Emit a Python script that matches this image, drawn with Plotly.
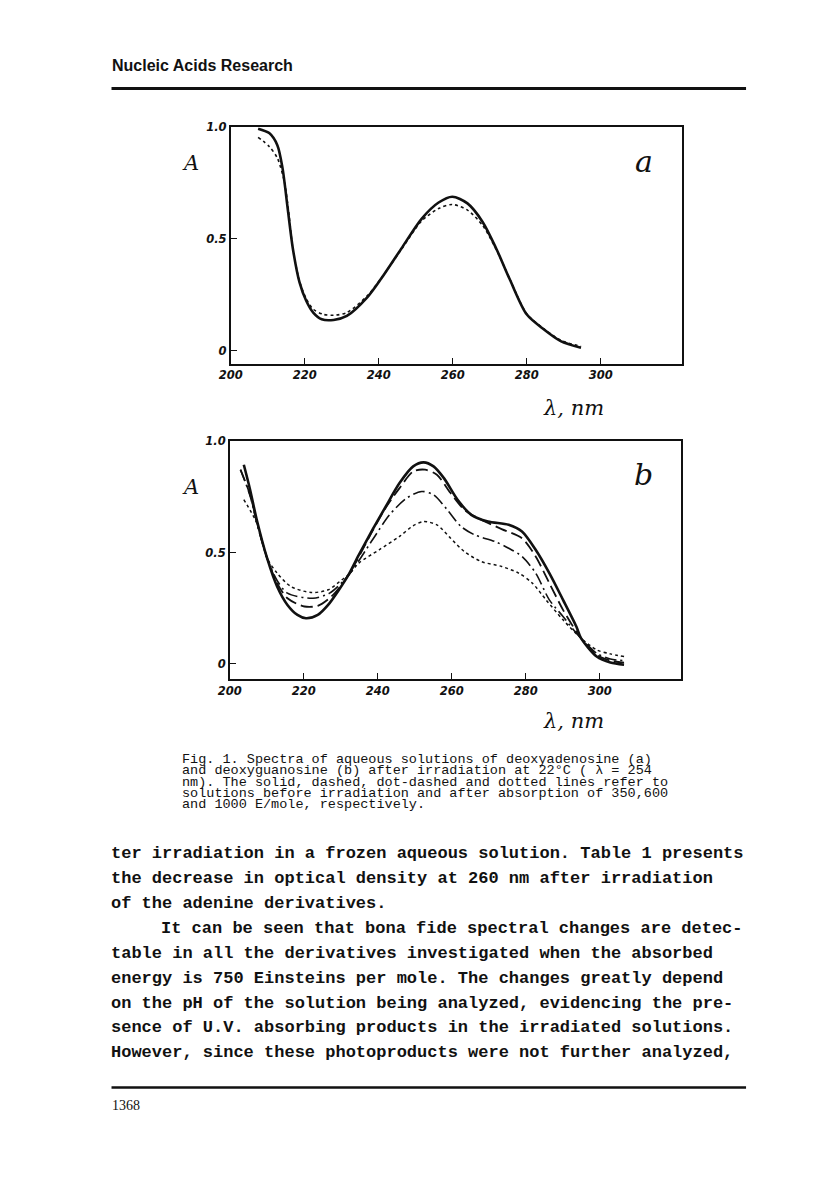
"""Scanned page: UV spectra of irradiated deoxyadenosine (a) and deoxyguanosine (b)."""

import plotly.graph_objects as go

W, H = 816, 1189
INK = "#111111"

# ---------------------------------------------------------------------------
# Data
# ---------------------------------------------------------------------------

# Panel a: deoxyadenosine
a_solid_nm = [207.4, 210.4, 212.6, 214.0, 215.4, 216.8, 218.6, 220.4, 222.3, 224.6,
              227.8, 231.4, 236.9, 240.6, 246.1, 251.6, 256.2, 259.9, 264.0, 268.1,
              271.8, 275.4, 280.0, 284.6, 289.2, 294.7]
a_solid_abs = [0.994, 0.974, 0.920, 0.817, 0.636, 0.456, 0.305, 0.223, 0.170, 0.140,
               0.137, 0.155, 0.238, 0.320, 0.456, 0.590, 0.663, 0.689, 0.659, 0.576,
               0.456, 0.320, 0.162, 0.095, 0.042, 0.012]

a_dot_nm = [207.4, 210.4, 212.6, 214.5, 215.6, 216.8, 218.6, 220.4, 222.3, 225.0,
            227.8, 231.4, 236.9, 240.6, 246.1, 251.6, 256.2, 259.9, 264.0, 268.1,
            271.8, 275.4, 280.0, 284.6, 289.2, 294.7]
a_dot_abs = [0.955, 0.914, 0.862, 0.756, 0.630, 0.456, 0.310, 0.232, 0.185, 0.162,
             0.158, 0.170, 0.245, 0.322, 0.452, 0.580, 0.636, 0.654, 0.629, 0.560,
             0.452, 0.322, 0.165, 0.098, 0.046, 0.018]

# Panel b: deoxyguanosine (before irradiation, 350, 600, 1000 E/mole)
b_solid_nm = [203.8, 205.5, 207.3, 210.1, 212.8, 215.6, 218.3, 220.6, 223.8, 226.6,
              229.4, 232.1, 234.9, 238.6, 242.2, 245.9, 249.6, 252.4, 255.1, 257.9,
              261.6, 265.3, 269.8, 275.4, 279.0, 282.7, 286.4, 290.1, 293.7, 295.0,
              299.2, 302.9, 306.6]
b_solid_abs = [0.895, 0.783, 0.648, 0.475, 0.348, 0.265, 0.220, 0.205, 0.220, 0.265,
               0.330, 0.400, 0.490, 0.603, 0.708, 0.813, 0.888, 0.906, 0.888, 0.835,
               0.738, 0.670, 0.640, 0.625, 0.595, 0.513, 0.408, 0.288, 0.168, 0.115,
               0.033, 0.006, -0.004]

b_dash_nm = [202.9, 205.5, 207.3, 210.1, 212.8, 215.6, 220.2, 223.8, 227.5, 232.1,
             238.6, 242.2, 245.9, 249.6, 252.8, 256.0, 259.7, 263.4, 268.0, 273.5,
             279.0, 282.7, 286.4, 290.1, 293.7, 295.0, 299.2, 302.9, 306.6]
b_dash_abs = [0.873, 0.760, 0.640, 0.475, 0.363, 0.295, 0.258, 0.261, 0.303, 0.400,
              0.598, 0.703, 0.790, 0.865, 0.873, 0.850, 0.768, 0.693, 0.648, 0.606,
              0.565, 0.483, 0.363, 0.243, 0.145, 0.115, 0.040, 0.015, 0.006]

b_dashdot_nm = [202.9, 205.5, 207.3, 210.1, 212.8, 215.6, 222.5, 227.0, 232.1, 238.6,
                243.2, 247.8, 251.9, 255.1, 258.8, 262.5, 266.2, 271.7, 275.4, 279.0,
                282.7, 286.4, 290.1, 293.7, 295.0, 299.2, 302.9, 306.6]
b_dashdot_abs = [0.873, 0.755, 0.635, 0.475, 0.375, 0.318, 0.295, 0.318, 0.398, 0.558,
                 0.670, 0.745, 0.775, 0.760, 0.693, 0.618, 0.580, 0.550, 0.520, 0.483,
                 0.408, 0.288, 0.213, 0.138, 0.115, 0.048, 0.022, 0.015]

b_dot_nm = [203.8, 207.3, 210.1, 212.8, 216.5, 222.0, 226.6, 230.3, 232.1, 234.9,
            240.4, 245.9, 249.6, 252.4, 256.0, 259.7, 263.4, 268.0, 273.5, 278.1,
            281.8, 285.5, 290.1, 295.0, 299.2, 302.9, 306.6]
b_dot_abs = [0.738, 0.633, 0.475, 0.408, 0.348, 0.321, 0.333, 0.378, 0.400, 0.453,
             0.513, 0.573, 0.621, 0.640, 0.625, 0.565, 0.505, 0.460, 0.438, 0.408,
             0.363, 0.288, 0.198, 0.115, 0.063, 0.045, 0.033]

x_ticks = [200, 220, 240, 260, 280, 300]
x_tick_text = ["200", "220", "240", "260", "280", "300"]
y_ticks = [0, 0.5, 1.0]
y_tick_text = ["0", "0.5", "1.0"]

caption_lines = [
    "Fig. 1. Spectra of aqueous solutions of deoxyadenosine (a)",
    "and deoxyguanosine (b) after irradiation at 22°C ( λ = 254",
    "nm). The solid, dashed, dot-dashed and dotted lines refer to",
    "solutions before irradiation and after absorption of 350,600",
    "and 1000 E/mole, respectively.",
]

body_lines = [
    "ter irradiation in a frozen aqueous solution. Table 1 presents",
    "the decrease in optical density at 260 nm after irradiation",
    "of the adenine derivatives.",
    "It can be seen that bona fide spectral changes are detec-",
    "table in all the derivatives investigated when the absorbed",
    "energy is 750 Einsteins per mole. The changes greatly depend",
    "on the pH of the solution being analyzed, evidencing the pre-",
    "sence of U.V. absorbing products in the irradiated solutions.",
    "However, since these photoproducts were not further analyzed,",
]


def px_x(x):
    return x / W


def px_y(y):
    return 1 - y / H


# ---------------------------------------------------------------------------
# Figure
# ---------------------------------------------------------------------------

fig = go.Figure()


def add_curve(x, y, axis, dash, width):
    fig.add_trace(
        go.Scatter(
            x=x, y=y, mode="lines",
            line=dict(color=INK, dash=dash, width=width, shape="spline", smoothing=0.8),
            xaxis="x" + axis, yaxis="y" + axis, showlegend=False, hoverinfo="skip",
        )
    )


add_curve(a_solid_nm, a_solid_abs, "", "solid", 2.6)
add_curve(a_dot_nm, a_dot_abs, "", "dot", 1.6)
add_curve(b_solid_nm, b_solid_abs, "2", "solid", 2.6)
add_curve(b_dash_nm, b_dash_abs, "2", "12px,5px", 1.8)
add_curve(b_dashdot_nm, b_dashdot_abs, "2", "12px,4px,2px,4px", 1.6)
add_curve(b_dot_nm, b_dot_abs, "2", "dot", 1.5)

axis_font = dict(family="DejaVu Sans", size=11.5, color=INK, style="italic", weight="bold")
common_x = dict(
    range=[200, 322], tickvals=x_ticks, ticktext=x_tick_text, ticks="inside",
    ticklen=6, tickcolor=INK, tickwidth=1.3, showgrid=False, zeroline=False,
    showline=True, linecolor=INK, linewidth=1.6, mirror=True, tickfont=axis_font,
)
common_y = dict(
    tickvals=y_ticks, ticktext=y_tick_text, ticks="inside", ticklen=6,
    tickcolor=INK, tickwidth=1.3, showgrid=False, zeroline=False, showline=True,
    linecolor=INK, linewidth=1.6, mirror=True, tickfont=axis_font,
)

fig.update_layout(
    width=W, height=H,
    margin=dict(l=0, r=0, t=0, b=0),
    paper_bgcolor="white", plot_bgcolor="white",
    xaxis=dict(domain=[px_x(222), px_x(680)], anchor="y", **common_x),
    yaxis=dict(domain=[px_y(359), px_y(121)], anchor="x", range=[-0.06, 1.0], **common_y),
    xaxis2=dict(domain=[px_x(221), px_x(679)], anchor="y2", **common_x),
    yaxis2=dict(domain=[px_y(676), px_y(437)], anchor="x2", range=[-0.068, 1.0], **common_y),
)

# page furniture
fig.add_shape(type="line", xref="paper", yref="paper", x0=px_x(101), x1=px_x(745),
              y0=px_y(82), y1=px_y(82), line=dict(color=INK, width=3))
fig.add_shape(type="line", xref="paper", yref="paper", x0=px_x(101), x1=px_x(745),
              y0=px_y(1087), y1=px_y(1087), line=dict(color=INK, width=2.5))


def note(text, x, y, size, family, xanchor="left", **font_kw):
    fig.add_annotation(
        text=text, x=px_x(x), y=px_y(y), xref="paper", yref="paper",
        xanchor=xanchor, yanchor="middle", showarrow=False, borderpad=0,
        borderwidth=0, font=dict(family=family, size=size, color=INK, **font_kw),
    )


note("<b>Nucleic Acids Research</b>", 101, 59, 16, "Liberation Sans")
note("1368", 101, 1105, 14, "Liberation Serif")

# hand-lettered axis labels and panel letters
for y_lab, y_letter, y_lam, letter in [(157, 155, 403, "a"), (483, 470, 718, "b")]:
    note("A", 181, y_lab, 21, "DejaVu Serif", xanchor="center", style="italic")
    note(letter, 641, y_letter, 30, "DejaVu Serif", xanchor="center", style="italic")
    note("λ, nm", 570, y_lam, 21, "DejaVu Serif", xanchor="center", style="italic")

for i, line in enumerate(caption_lines):
    note(line, 173, 757 + i * 11.4, 13.5, "Liberation Mono")

for i, line in enumerate(body_lines):
    x0 = 151 if line.startswith("It can") else 100
    note(f"<b>{line}</b>", x0, 852 + i * 25, 17, "Liberation Mono")

fig.write_html(
    "out.html",
    config={"displayModeBar": False},
    post_script="document.body.style.margin = '0';",
)
